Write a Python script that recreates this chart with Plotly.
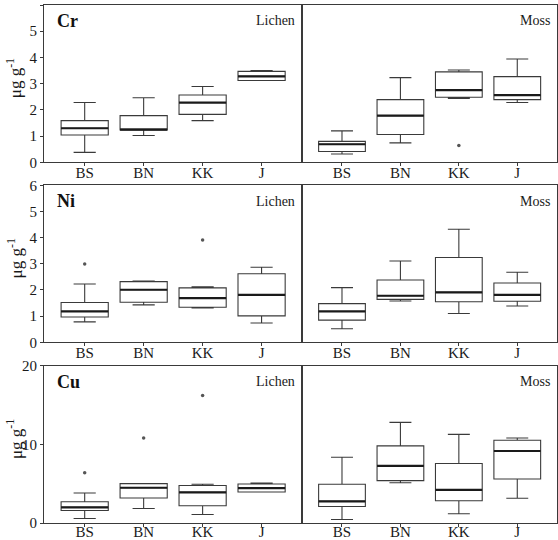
import plotly.graph_objects as go

categories = ["BS", "BN", "KK", "J"]

# Cr
cr_lichen_q1 = [1.04, 1.23, 1.83, 3.12]
cr_lichen_med = [1.30, 1.25, 2.28, 3.28]
cr_lichen_q3 = [1.59, 1.78, 2.57, 3.47]
cr_lichen_lo = [0.38, 1.02, 1.59, 3.12]
cr_lichen_hi = [2.28, 2.46, 2.89, 3.50]
cr_lichen_out = {}

cr_moss_q1 = [0.41, 1.06, 2.48, 2.39]
cr_moss_med = [0.69, 1.78, 2.75, 2.56]
cr_moss_q3 = [0.80, 2.39, 3.45, 3.27]
cr_moss_lo = [0.32, 0.74, 2.44, 2.28]
cr_moss_hi = [1.20, 3.23, 3.52, 3.94]
cr_moss_out = {"KK": 0.64}

# Ni
ni_lichen_q1 = [0.97, 1.53, 1.34, 1.01]
ni_lichen_med = [1.18, 2.01, 1.69, 1.81]
ni_lichen_q3 = [1.52, 2.32, 2.08, 2.62]
ni_lichen_lo = [0.78, 1.43, 1.31, 0.74]
ni_lichen_hi = [2.23, 2.34, 2.12, 2.87]
ni_lichen_out = {"BS": 2.99, "KK": 3.91}

ni_moss_q1 = [0.85, 1.64, 1.55, 1.57]
ni_moss_med = [1.18, 1.78, 1.91, 1.81]
ni_moss_q3 = [1.48, 2.38, 3.24, 2.27]
ni_moss_lo = [0.52, 1.58, 1.10, 1.39]
ni_moss_hi = [2.09, 3.11, 4.32, 2.68]
ni_moss_out = {}

# Cu
cu_lichen_q1 = [1.60, 3.18, 2.20, 3.94]
cu_lichen_med = [2.00, 4.49, 3.90, 4.45]
cu_lichen_q3 = [2.71, 5.01, 4.77, 4.96]
cu_lichen_lo = [0.57, 1.84, 1.09, 3.94]
cu_lichen_hi = [3.82, 5.01, 4.93, 5.08]
cu_lichen_out = {"BS": 6.39, "BN": 10.83, "KK": 16.25}

cu_moss_q1 = [2.11, 5.40, 2.83, 5.60]
cu_moss_med = [2.75, 7.27, 4.22, 9.17]
cu_moss_q3 = [4.93, 9.83, 7.58, 10.55]
cu_moss_lo = [0.45, 5.13, 1.17, 3.15]
cu_moss_hi = [8.37, 12.82, 11.29, 10.83]
cu_moss_out = {}

elements = ["Cr", "Ni", "Cu"]
y_ranges = [[0, 6], [0, 6], [0, 20]]
y_ticks = [[0, 1, 2, 3, 4, 5, 6], [0, 1, 2, 3, 4, 5, 6], [0, 10, 20]]

panels = [
    (0, 0, "Lichen", cr_lichen_q1, cr_lichen_med, cr_lichen_q3, cr_lichen_lo, cr_lichen_hi, cr_lichen_out),
    (0, 1, "Moss", cr_moss_q1, cr_moss_med, cr_moss_q3, cr_moss_lo, cr_moss_hi, cr_moss_out),
    (1, 0, "Lichen", ni_lichen_q1, ni_lichen_med, ni_lichen_q3, ni_lichen_lo, ni_lichen_hi, ni_lichen_out),
    (1, 1, "Moss", ni_moss_q1, ni_moss_med, ni_moss_q3, ni_moss_lo, ni_moss_hi, ni_moss_out),
    (2, 0, "Lichen", cu_lichen_q1, cu_lichen_med, cu_lichen_q3, cu_lichen_lo, cu_lichen_hi, cu_lichen_out),
    (2, 1, "Moss", cu_moss_q1, cu_moss_med, cu_moss_q3, cu_moss_lo, cu_moss_hi, cu_moss_out),
]

FONT = "Liberation Serif, Times New Roman, serif"
LINE = "#3a3a3a"
pos = list(range(len(categories)))
BOXW = 0.8

row_domains = [[0.6963, 1.0], [0.3488, 0.6519], [0.0, 0.3031]]
col_domains = [[0.0, 0.5023], [0.5023, 1.0]]

fig = go.Figure()
layout = {}
annotations = []

for (r, c, hab, q1, med, q3, lo, hi, out) in panels:
    k = r * 2 + c + 1
    xa = "x" if k == 1 else f"x{k}"
    ya = "y" if k == 1 else f"y{k}"
    fig.add_trace(go.Box(
        x=pos, q1=q1, median=med, q3=q3, lowerfence=lo, upperfence=hi,
        xaxis=xa, yaxis=ya, width=BOXW, whiskerwidth=0.47,
        line=dict(color=LINE, width=1.1), fillcolor="white",
        boxpoints=False, showlegend=False, hoverinfo="skip",
    ))
    # thick medians
    mx, my = [], []
    for i, m in zip(pos, med):
        mx += [i - BOXW / 2, i + BOXW / 2, None]
        my += [m, m, None]
    fig.add_trace(go.Scatter(x=mx, y=my, mode="lines", xaxis=xa, yaxis=ya,
                             line=dict(color="#1a1a1a", width=2.2),
                             showlegend=False, hoverinfo="skip"))
    if out:
        fig.add_trace(go.Scatter(
            x=[categories.index(k2) for k2 in out], y=list(out.values()),
            mode="markers", xaxis=xa, yaxis=ya,
            marker=dict(color="#555555", size=3.5),
            showlegend=False, hoverinfo="skip"))

    xname = "xaxis" if k == 1 else f"xaxis{k}"
    yname = "yaxis" if k == 1 else f"yaxis{k}"
    layout[xname] = dict(
        domain=col_domains[c], anchor=ya, range=[-0.69, 3.68],
        tickvals=pos, ticktext=categories, ticks="outside", ticklen=3,
        tickcolor=LINE, showline=True, linecolor=LINE, linewidth=1.2,
        mirror=True, showgrid=False, zeroline=False, automargin=False,
        ticklabelstandoff=(-8 if r == 2 else -6),
        tickfont=dict(family=FONT, size=15, color="#1a1a1a"),
    )
    layout[yname] = dict(
        domain=row_domains[r], anchor=xa, range=y_ranges[r],
        tickvals=y_ticks[r], ticks="outside" if c == 0 else "", ticklen=3,
        tickcolor=LINE, showticklabels=(c == 0), showline=True,
        linecolor=LINE, linewidth=1.2, mirror=True, showgrid=False,
        zeroline=False, automargin=False,
        tickfont=dict(family=FONT, size=15, color="#1a1a1a"),
    )
    xd = col_domains[c]
    yd = row_domains[r]
    annotations.append(dict(
        text=hab, xref="paper", yref="paper", x=xd[1] - 0.01, y=yd[1] - 0.012,
        xanchor="right", yanchor="top", showarrow=False,
        font=dict(family=FONT, size=14, color="#1a1a1a")))
    if c == 0:
        annotations.append(dict(
            text=f"<b>{elements[r]}</b>", xref="paper", yref="paper",
            x=0.021, y=yd[1] - 0.008, xanchor="left", yanchor="top",
            showarrow=False, font=dict(family=FONT, size=18, color="#111111")))
        annotations.append(dict(
            text="μg g<sup>-1</sup>", xref="paper", yref="paper",
            x=-0.057, y=(yd[0] + yd[1]) / 2 + 0.01, xanchor="center", yanchor="middle",
            textangle=-90, showarrow=False,
            font=dict(family=FONT, size=17, color="#1a1a1a")))

fig.update_layout(
    width=558, height=540,
    margin=dict(l=44, r=1, t=5, b=17, autoexpand=False),
    paper_bgcolor="white", plot_bgcolor="white",
    annotations=annotations, **layout,
)

fig.write_html("out.html", config={"displayModeBar": False},
               post_script="document.body.style.margin='0';document.body.style.overflow='hidden';")
